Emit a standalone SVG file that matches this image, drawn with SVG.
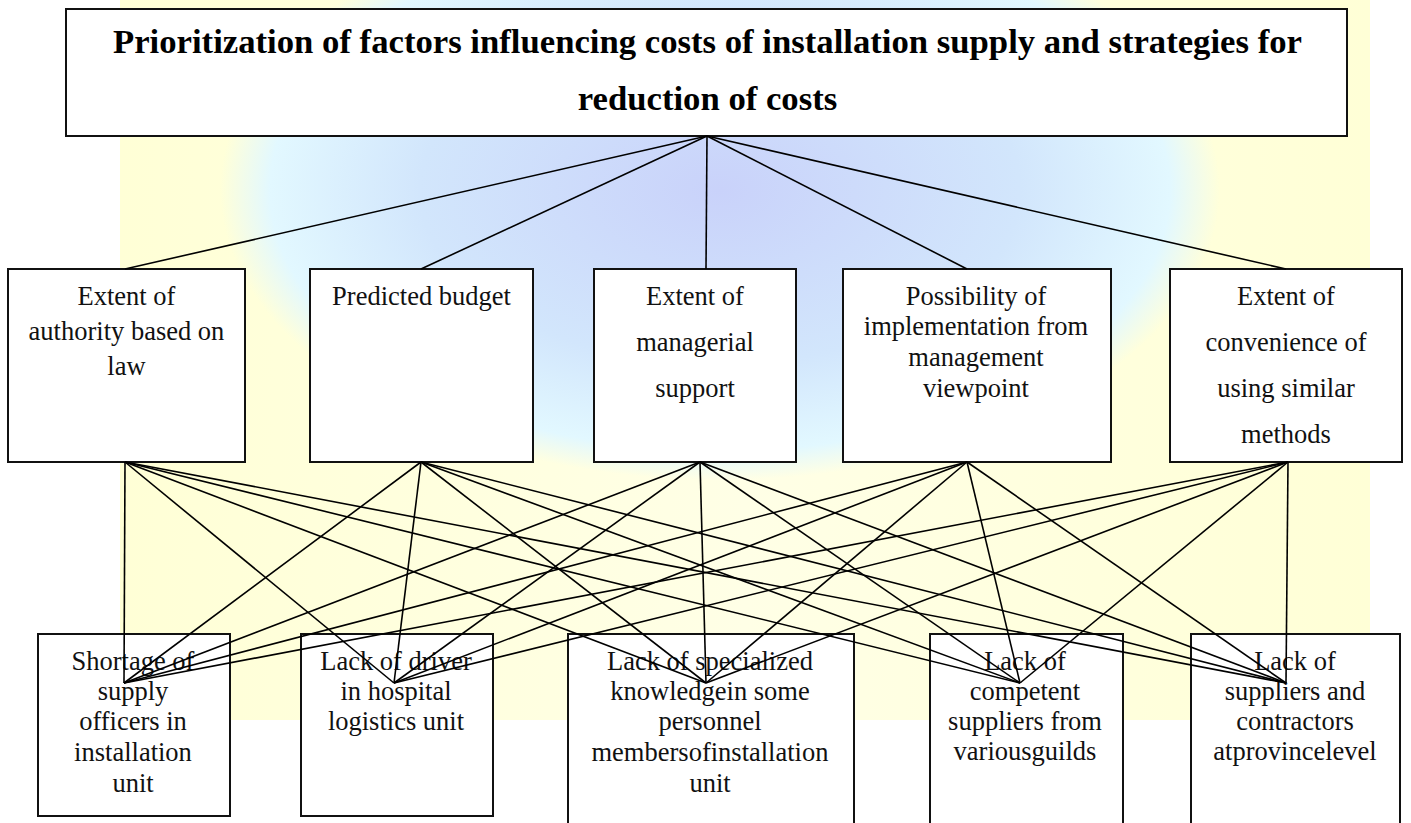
<svg xmlns="http://www.w3.org/2000/svg" width="1411" height="823" viewBox="0 0 1411 823">
<style>
.box{fill:#fff;stroke:#111;stroke-width:2}
.t{font-family:"Liberation Serif","Times New Roman",serif;font-size:26.5px;fill:#111;text-anchor:middle}
.title{font-family:"Liberation Serif","Times New Roman",serif;font-size:34.7px;font-weight:bold;fill:#000;text-anchor:middle}
.c line{stroke:#000;stroke-width:1.6}
</style>
<defs>
<linearGradient id="yel" x1="0" y1="0" x2="1" y2="0">
<stop offset="0" stop-color="#FFFFD6"/>
<stop offset="0.5" stop-color="#FFFFE6"/>
<stop offset="1" stop-color="#FFFFD6"/>
</linearGradient>
<radialGradient id="globe" cx="0.5" cy="0.5" r="0.5">
<stop offset="0" stop-color="#C9D2FA"/>
<stop offset="0.6" stop-color="#D2E6FC"/>
<stop offset="0.9" stop-color="#E2F8FF"/>
<stop offset="1" stop-color="#E2F8FF" stop-opacity="0"/>
</radialGradient>
</defs>
<rect width="1411" height="823" fill="#fff"/>
<g id="watermark">
<rect x="120" y="0" width="1250" height="720" fill="url(#yel)"/>
<ellipse cx="720" cy="190" rx="500" ry="290" fill="url(#globe)"/>
</g>
<g id="title">
<rect class="box" x="66" y="9" width="1281" height="127"/>
<text class="title" x="707.5" y="53">Prioritization of factors influencing costs of installation supply and strategies for</text>
<text class="title" x="707.5" y="110">reduction of costs</text>
</g>
<g id="m1">
<rect class="box" x="8" y="269" width="237" height="193"/>
<text class="t" x="126.5" y="305">Extent of</text>
<text class="t" x="126.5" y="340">authority based on</text>
<text class="t" x="126.5" y="375">law</text>
</g>
<g id="m2">
<rect class="box" x="310" y="269" width="223" height="193"/>
<text class="t" x="421.5" y="305">Predicted budget</text>
</g>
<g id="m3">
<rect class="box" x="594" y="269" width="202" height="193"/>
<text class="t" x="695" y="305">Extent of</text>
<text class="t" x="695" y="351">managerial</text>
<text class="t" x="695" y="397">support</text>
</g>
<g id="m4">
<rect class="box" x="843" y="269" width="268" height="193"/>
<text class="t" x="976" y="305">Possibility of</text>
<text class="t" x="976" y="335">implementation from</text>
<text class="t" x="976" y="366">management</text>
<text class="t" x="976" y="397">viewpoint</text>
</g>
<g id="m5">
<rect class="box" x="1170" y="269" width="232" height="193"/>
<text class="t" x="1286" y="305">Extent of</text>
<text class="t" x="1286" y="351">convenience of</text>
<text class="t" x="1286" y="397">using similar</text>
<text class="t" x="1286" y="443">methods</text>
</g>
<g id="b1">
<rect class="box" x="38" y="634" width="192" height="182"/>
<text class="t" x="133" y="670">Shortage of</text>
<text class="t" x="133" y="700">supply</text>
<text class="t" x="133" y="730">officers in</text>
<text class="t" x="133" y="761">installation</text>
<text class="t" x="133" y="792">unit</text>
</g>
<g id="b2">
<rect class="box" x="301" y="634" width="192" height="182"/>
<text class="t" x="396" y="670">Lack of driver</text>
<text class="t" x="396" y="700">in hospital</text>
<text class="t" x="396" y="730">logistics unit</text>
</g>
<g id="b3">
<path class="box" d="M568,830 V634 H854 V830"/>
<text class="t" x="710" y="670">Lack of specialized</text>
<text class="t" x="710" y="700">knowledgein some</text>
<text class="t" x="710" y="730">personnel</text>
<text class="t" x="710" y="761">membersofinstallation</text>
<text class="t" x="710" y="792">unit</text>
</g>
<g id="b4">
<path class="box" d="M930,830 V634 H1123 V830"/>
<text class="t" x="1025" y="670">Lack of</text>
<text class="t" x="1025" y="700">competent</text>
<text class="t" x="1025" y="730">suppliers from</text>
<text class="t" x="1025" y="760">variousguilds</text>
</g>
<g id="b5">
<path class="box" d="M1191,830 V634 H1400 V830"/>
<text class="t" x="1295" y="670">Lack of</text>
<text class="t" x="1295" y="700">suppliers and</text>
<text class="t" x="1295" y="730">contractors</text>
<text class="t" x="1295" y="760">atprovincelevel</text>
</g>
<g id="connectors" class="c">
<line x1="707" y1="136" x2="125" y2="269"/>
<line x1="707" y1="136" x2="421" y2="269"/>
<line x1="707" y1="136" x2="706" y2="269"/>
<line x1="707" y1="136" x2="967" y2="269"/>
<line x1="707" y1="136" x2="1286" y2="269"/>
<line x1="125" y1="462" x2="124" y2="683"/>
<line x1="125" y1="462" x2="394" y2="683"/>
<line x1="125" y1="462" x2="706" y2="683"/>
<line x1="125" y1="462" x2="1020" y2="683"/>
<line x1="125" y1="462" x2="1286" y2="683"/>
<line x1="421" y1="462" x2="124" y2="683"/>
<line x1="421" y1="462" x2="394" y2="683"/>
<line x1="421" y1="462" x2="706" y2="683"/>
<line x1="421" y1="462" x2="1020" y2="683"/>
<line x1="421" y1="462" x2="1286" y2="683"/>
<line x1="700" y1="462" x2="124" y2="683"/>
<line x1="700" y1="462" x2="394" y2="683"/>
<line x1="700" y1="462" x2="706" y2="683"/>
<line x1="700" y1="462" x2="1020" y2="683"/>
<line x1="700" y1="462" x2="1286" y2="683"/>
<line x1="967" y1="462" x2="124" y2="683"/>
<line x1="967" y1="462" x2="394" y2="683"/>
<line x1="967" y1="462" x2="706" y2="683"/>
<line x1="967" y1="462" x2="1020" y2="683"/>
<line x1="967" y1="462" x2="1286" y2="683"/>
<line x1="1288" y1="462" x2="124" y2="683"/>
<line x1="1288" y1="462" x2="394" y2="683"/>
<line x1="1288" y1="462" x2="706" y2="683"/>
<line x1="1288" y1="462" x2="1020" y2="683"/>
<line x1="1288" y1="462" x2="1286" y2="683"/>
</g>
</svg>
